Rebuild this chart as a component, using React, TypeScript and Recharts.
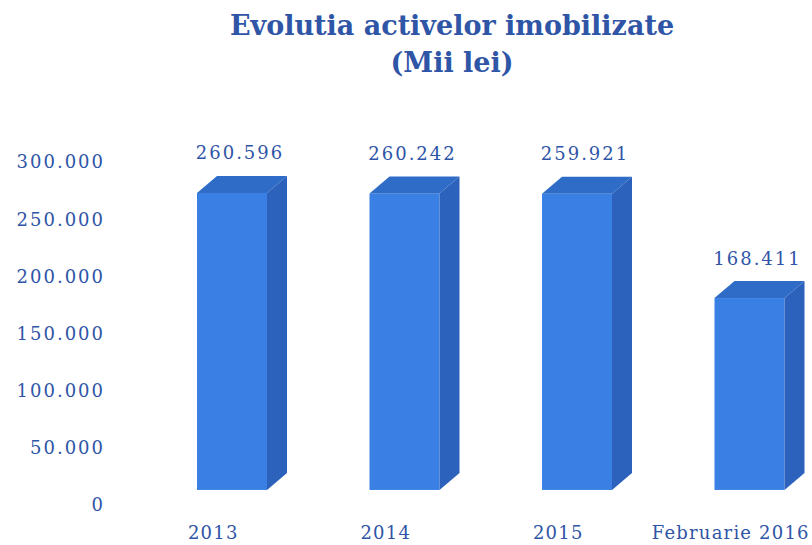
import React from "react"
import { BarChart, Bar, XAxis, YAxis, LabelList } from "recharts"

const categories = ["2013", "2014", "2015", "Februarie 2016"]
const values = [260596, 260242, 259921, 168411]
const yTicks = [0, 50000, 100000, 150000, 200000, 250000, 300000]

const data = categories.map((name, i) => ({ name, value: values[i] }))

const textColor = "#2f55a6"
const font = "'DejaVu Serif', serif"

const fmt = (v: number) =>
  String(v).replace(/\B(?=(\d{3})+(?!\d))/g, ".")

const DEPTH_X = 20
const DEPTH_Y = 17

// front face + top + right side, fake 3D like the old office charts
function Bar3D(props: any) {
  const { x, y, width, height } = props
  if (height == null || width == null) return null
  const dx = DEPTH_X
  const dy = DEPTH_Y
  const top = `${x},${y} ${x + dx},${y - dy} ${x + width + dx},${y - dy} ${x + width},${y}`
  const side = `${x + width},${y} ${x + width + dx},${y - dy} ${x + width + dx},${y + height - dy} ${x + width},${y + height}`
  return (
    <g>
      <rect x={x} y={y} width={width} height={height} fill="#3a80e4" />
      <polygon points={top} fill="#2e6cc8" />
      <polygon points={side} fill="#2c62bc" />
    </g>
  )
}

function ValueLabel(props: any) {
  const { x, y, width, value } = props
  return (
    <text
      x={x + width / 2 + 8}
      y={y - 40}
      textAnchor="middle"
      dominantBaseline="central"
      fill={textColor}
      style={{ fontFamily: font, fontSize: 18, letterSpacing: 2 }}
    >
      {fmt(value)}
    </text>
  )
}

export default function App() {
  return (
    <div
      style={{
        position: "fixed",
        left: 0,
        top: 0,
        width: 812,
        height: 545,
        overflow: "hidden",
        background: "#fff",
      }}
    >
      <div
        style={{
          position: "absolute",
          left: 152,
          top: 7,
          width: 600,
          textAlign: "center",
          fontFamily: font,
          fontWeight: "bold",
          fontSize: 27,
          lineHeight: "37px",
          color: textColor,
        }}
      >
        Evolutia activelor imobilizate
        <br />
        (Mii lei)
      </div>
      <BarChart
        width={840}
        height={545}
        data={data}
        margin={{ top: 162, right: 4, bottom: 0, left: 0 }}
      >
        <XAxis
          dataKey="name"
          axisLine={false}
          tickLine={false}
          tickSize={0}
          tickMargin={21}
          height={40}
          interval={0}
          tick={{
            fill: textColor,
            fontSize: 18,
            fontFamily: font,
            dx: -19,
            style: { letterSpacing: 1.2 },
          } as any}
        />
        <YAxis
          yAxisId="ticks"
          type="number"
          domain={[0, 300000]}
          allowDataOverflow
          ticks={yTicks}
          interval={0}
          width={146}
          axisLine={false}
          tickLine={false}
          tickSize={6}
          tickMargin={35}
          tickFormatter={(v: number) => fmt(v)}
          tick={{
            fill: textColor,
            fontSize: 18,
            fontFamily: font,
            style: { letterSpacing: 2 },
          } as any}
        />
        <YAxis
          yAxisId="bars"
          orientation="right"
          type="number"
          domain={[-13200, 287800]}
          allowDataOverflow
          hide
        />
        <Bar
          yAxisId="bars"
          dataKey="value"
          barSize={70}
          shape={<Bar3D />}
          isAnimationActive={false}
        >
          <LabelList dataKey="value" content={<ValueLabel />} />
        </Bar>
      </BarChart>
    </div>
  )
}
